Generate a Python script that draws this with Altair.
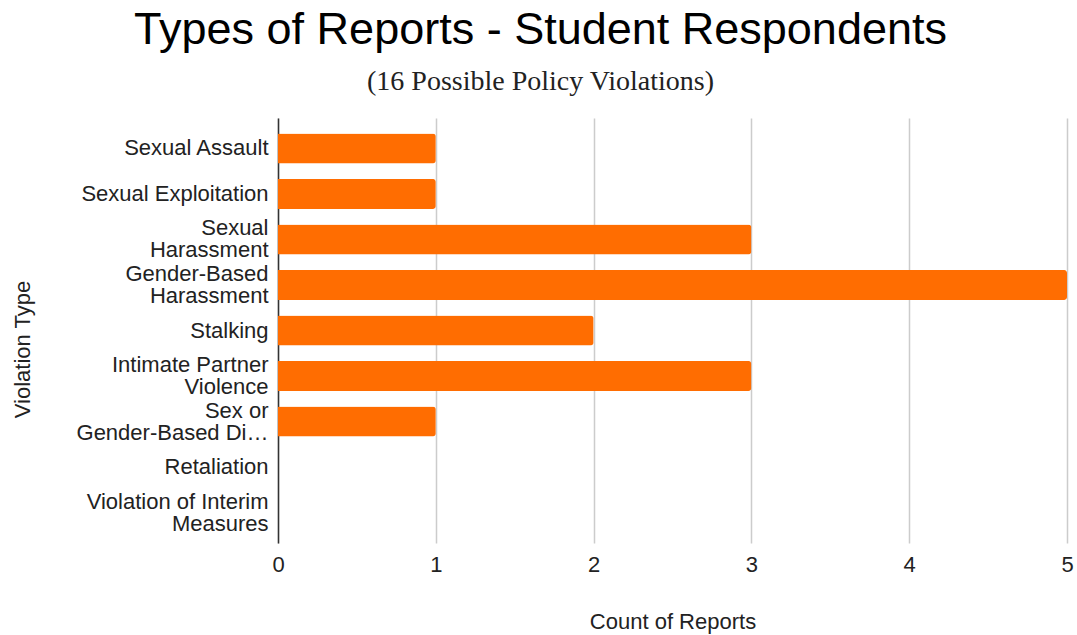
import altair as alt
import pandas as pd

categories = [
    "Sexual Assault",
    "Sexual Exploitation",
    "Sexual|Harassment",
    "Gender-Based|Harassment",
    "Stalking",
    "Intimate Partner|Violence",
    "Sex or|Gender-Based Di\u2026",
    "Retaliation",
    "Violation of Interim|Measures",
]
counts = [1, 1, 3, 5, 2, 3, 1, 0, 0]

df = pd.DataFrame({"Violation Type": categories, "Count of Reports": counts})

FONT = "Liberation Sans"

chart = (
    alt.Chart(df)
    .mark_bar(color="#FF6D01", cornerRadiusEnd=3)
    .encode(
        y=alt.Y(
            "Violation Type:N",
            sort=categories,
            scale=alt.Scale(paddingInner=0.34, paddingOuter=0.34),
            axis=alt.Axis(
                title="Violation Type",
                labelExpr="split(datum.label, '|')",
                labelFont=FONT,
                labelFontSize=22,
                labelColor="#222222",
                labelPadding=10,
                labelLineHeight=22,
                labelOffset={
                    "condition": {"test": "indexof(datum.value, '|') >= 0", "value": -11},
                    "value": 0,
                },
                labelLimit=300,
                ticks=False,
                domainColor="#333333",
                domainWidth=1.5,
                titleFont=FONT,
                titleFontSize=22,
                titleFontWeight="normal",
                titleColor="#222222",
                titlePadding=44,
                titleY=231,
                grid=False,
            ),
        ),
        x=alt.X(
            "Count of Reports:Q",
            scale=alt.Scale(domain=[0, 5], nice=False),
            axis=alt.Axis(
                title="Count of Reports",
                values=[0, 1, 2, 3, 4, 5],
                labelFont=FONT,
                labelFontSize=22,
                labelColor="#222222",
                labelPadding=11,
                labelFlush=False,
                ticks=False,
                domain=False,
                gridColor="#cccccc",
                gridWidth=1.5,
                titleFont=FONT,
                titleFontSize=22,
                titleFontWeight="normal",
                titleColor="#222222",
                titlePadding=36,
            ),
        ),
    )
    .properties(
        width=789,
        height=425,
        title=alt.TitleParams(
            text="Types of Reports - Student Respondents",
            subtitle="(16 Possible Policy Violations)",
            font=FONT,
            fontSize=45,
            fontWeight="normal",
            color="#000000",
            subtitleFont="Liberation Serif",
            subtitleFontSize=28,
            subtitleColor="#222222",
            subtitlePadding=15,
            anchor="middle",
            dx=-132,
            offset=22,
        ),
        autosize=alt.AutoSizeParams(type="none"),
        padding={"left": 278, "top": 118, "right": 10, "bottom": 92},
    )
    .configure_view(stroke=None)
)

chart.save("out.html", embed_options={"renderer": "svg", "actions": False})
